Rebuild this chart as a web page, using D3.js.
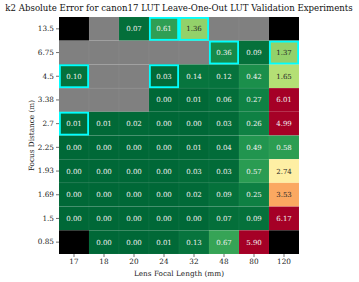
<!DOCTYPE html>
<html>
<head>
<meta charset="utf-8">
<script src="https://cdn.jsdelivr.net/npm/d3@7"></script>
<style>
  body { margin: 0; background: #fff; }
  svg text { font-family: "DejaVu Serif", "Liberation Serif", serif !important; }
</style>
</head>
<body>
<div id="chart"></div>
<script>
// focal lengths (columns) and focus distances (rows)
var focalLengths = ["17", "18", "20", "24", "32", "48", "80", "120"];
var focusDistances = ["13.5", "6.75", "4.5", "3.38", "2.7", "2.25", "1.93", "1.69", "1.5", "0.85"];

// null = no data (gray), "X" = excluded (black)
var errors = [
  ["X",  null, 0.07, 0.61, 1.36, null, null, "X"],
  [null, null, null, null, null, 0.36, 0.09, 1.37],
  [0.10, null, null, 0.03, 0.14, 0.12, 0.42, 1.65],
  [null, null, null, 0.00, 0.01, 0.06, 0.27, 6.01],
  [0.01, 0.01, 0.02, 0.00, 0.00, 0.03, 0.26, 4.99],
  [0.00, 0.00, 0.00, 0.00, 0.01, 0.04, 0.49, 0.58],
  [0.00, 0.00, 0.00, 0.00, 0.03, 0.03, 0.57, 2.74],
  [0.00, 0.00, 0.00, 0.00, 0.02, 0.09, 0.25, 3.53],
  [0.00, 0.00, 0.00, 0.00, 0.00, 0.07, 0.09, 6.17],
  ["X",  0.00, 0.00, 0.01, 0.13, 0.67, 5.90, "X"]
];

// left-out LUT cells (highlighted)
var leftOut = [
  ["13.5", "24"], ["13.5", "32"], ["6.75", "48"], ["6.75", "120"],
  ["4.5", "17"], ["4.5", "24"], ["2.7", "17"]
];

var svgWidth = 359, svgHeight = 282;
var margin = { top: 17, right: 60, bottom: 28, left: 59 };
var width = 240, height = 237;

var svg = d3.select("#chart").append("svg")
  .attr("width", svgWidth)
  .attr("height", svgHeight);

var g = svg.append("g")
  .attr("transform", `translate(${margin.left}, ${margin.top})`);

var x = d3.scaleBand().domain(focalLengths).range([0, width]);
var y = d3.scaleBand().domain(focusDistances).range([0, height]);

var color = d3.scaleSequential(t => d3.interpolateRdYlGn(1 - t))
  .domain([0, 5]).clamp(true);

var cells = [];
focusDistances.forEach(function(fd, i) {
  focalLengths.forEach(function(fl, j) {
    cells.push({ fd: fd, fl: fl, v: errors[i][j] });
  });
});

function fill(d) {
  if (d.v === null) return "#808080";
  if (d.v === "X") return "#000000";
  return color(d.v);
}

g.selectAll("rect.cell")
  .data(cells)
  .enter()
  .append("rect")
  .attr("class", "cell")
  .attr("x", d => x(d.fl))
  .attr("y", d => y(d.fd))
  .attr("width", x.bandwidth())
  .attr("height", y.bandwidth())
  .attr("fill", fill)
  .attr("stroke", d => d.v === "X" ? "none" : "rgba(255,255,255,0.06)")
  .attr("stroke-width", 0.6);

g.selectAll("text.val")
  .data(cells.filter(d => typeof d.v === "number"))
  .enter()
  .append("text")
  .attr("class", "val")
  .attr("x", d => x(d.fl) + x.bandwidth() / 2)
  .attr("y", d => y(d.fd) + y.bandwidth() / 2)
  .attr("dy", "0.35em")
  .attr("text-anchor", "middle")
  .attr("font-size", 7)
  .attr("fill", function(d) {
    var c = d3.hsl(color(d.v));
    return c.l > 0.6 ? "#262626" : "#f2f2f2";
  })
  .text(d => d.v.toFixed(2));

// cyan boxes for left-out LUTs
g.selectAll("rect.lo")
  .data(leftOut)
  .enter()
  .append("rect")
  .attr("class", "lo")
  .attr("x", d => x(d[1]) + 0.9)
  .attr("y", d => y(d[0]) + 0.9)
  .attr("width", x.bandwidth() - 1.8)
  .attr("height", y.bandwidth() - 1.8)
  .attr("fill", "none")
  .attr("stroke", "#00ffff")
  .attr("stroke-width", 1.8);

// axes
var xAxis = g.append("g")
  .attr("transform", `translate(0, ${height})`)
  .call(d3.axisBottom(x).tickSize(3).tickPadding(2));
var yAxis = g.append("g")
  .call(d3.axisLeft(y).tickSize(3).tickPadding(2));

[xAxis, yAxis].forEach(function(a) {
  a.attr("font-family", null);
  a.select(".domain").remove();
  a.selectAll("line").attr("stroke", "#333").attr("stroke-width", 0.7);
  a.selectAll("text")
    .attr("font-size", 7.3)
    .attr("fill", "#222");
});

// labels
svg.append("text")
  .attr("x", margin.left + width / 2)
  .attr("y", 11)
  .attr("text-anchor", "middle")
  .attr("font-size", 8.6)
  .attr("fill", "#111")
  .text("k2 Absolute Error for canon17 LUT Leave-One-Out LUT Validation Experiments");

svg.append("text")
  .attr("x", margin.left + width / 2)
  .attr("y", 276)
  .attr("text-anchor", "middle")
  .attr("font-size", 7.3)
  .attr("fill", "#222")
  .text("Lens Focal Length (mm)");

svg.append("text")
  .attr("transform", "rotate(-90)")
  .attr("x", -(margin.top + height / 2))
  .attr("y", 34)
  .attr("text-anchor", "middle")
  .attr("font-size", 7.3)
  .attr("fill", "#222")
  .text("Focus Distance (m)");
</script>
</body>
</html>
